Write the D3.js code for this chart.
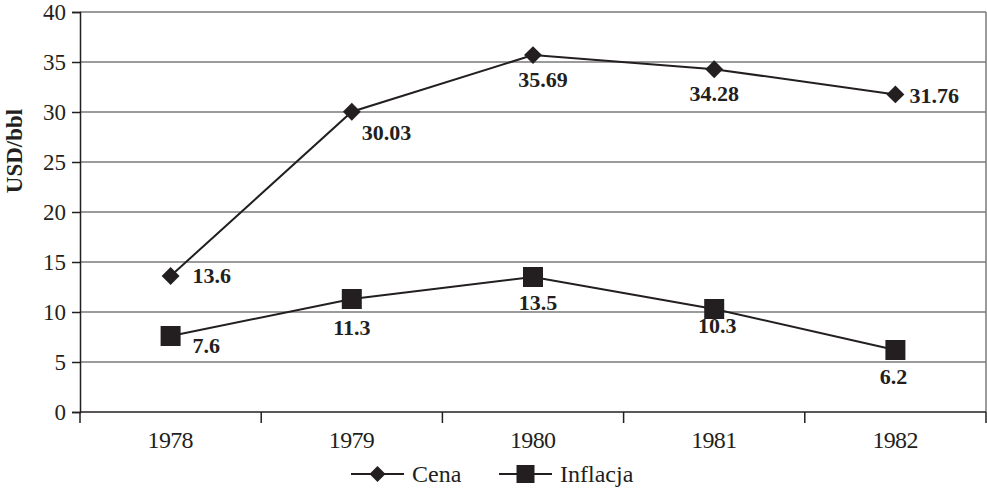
<!DOCTYPE html>
<html>
<head>
<meta charset="utf-8">
<script src="https://cdn.jsdelivr.net/npm/d3@7"></script>
<style>
  body { margin: 0; background: #fff; }
  svg text { font-family: "Liberation Serif", "Times New Roman", serif; fill: #231f20; }
</style>
</head>
<body>
<svg width="987" height="488"></svg>
<script>
var years = ["1978", "1979", "1980", "1981", "1982"];
var cena = [13.6, 30.03, 35.69, 34.28, 31.76];
var inflacja = [7.6, 11.3, 13.5, 10.3, 6.2];
var yTicks = [0, 5, 10, 15, 20, 25, 30, 35, 40];

var svg = d3.select("svg"),
    margin = {top: 12, right: 1, bottom: 76, left: 80},
    width = +svg.attr("width") - margin.left - margin.right,
    height = +svg.attr("height") - margin.top - margin.bottom,
    g = svg.append("g").attr("transform", "translate(" + margin.left + "," + margin.top + ")");

var x = d3.scaleBand().domain(years).range([0, width]);
var y = d3.scaleLinear().domain([0, 40]).range([height, 0]);
var ink = "#231f20";

// gridlines
g.selectAll("line.grid")
    .data(yTicks.filter(function(d) { return d > 0; }))
    .enter().append("line")
    .attr("class", "grid")
    .attr("x1", 0).attr("x2", width)
    .attr("y1", function(d) { return y(d); })
    .attr("y2", function(d) { return y(d); })
    .attr("stroke", "#7a7a7a").attr("stroke-width", 1.5);

// right border
g.append("line")
    .attr("x1", width).attr("x2", width)
    .attr("y1", 0).attr("y2", height)
    .attr("stroke", "#7a7a7a").attr("stroke-width", 1.5);

// y axis
var yAxis = g.append("g")
    .call(d3.axisLeft(y).tickValues(yTicks).tickSize(8).tickPadding(6));
yAxis.select(".domain").attr("stroke", ink).attr("stroke-width", 1.5);
yAxis.selectAll(".tick line").attr("stroke", ink).attr("stroke-width", 1.5);
yAxis.selectAll(".tick text").attr("font-size", "23px").attr("fill", ink);

// x axis: ticks at band boundaries
var xAxis = g.append("g").attr("transform", "translate(0," + height + ")");
xAxis.append("line")
    .attr("x1", 0).attr("x2", width)
    .attr("stroke", ink).attr("stroke-width", 1.5);
var bounds = years.map(function(d) { return x(d); }).concat([width]);
xAxis.selectAll("line.tk")
    .data(bounds)
    .enter().append("line")
    .attr("class", "tk")
    .attr("x1", function(d) { return d; }).attr("x2", function(d) { return d; })
    .attr("y1", 0).attr("y2", 11)
    .attr("stroke", ink).attr("stroke-width", 1.5);
xAxis.selectAll("text")
    .data(years)
    .enter().append("text")
    .attr("x", function(d) { return x(d) + x.bandwidth() / 2; })
    .attr("y", 36)
    .attr("text-anchor", "middle")
    .attr("font-size", "24px")
    .attr("textLength", 46)
    .text(function(d) { return d; });

// y title
svg.append("text")
    .attr("transform", "translate(22,151) rotate(-90)")
    .attr("text-anchor", "middle")
    .attr("font-size", "23px")
    .attr("font-weight", "bold")
    .text("USD/bbl");

var cx = function(i) { return x(years[i]) + x.bandwidth() / 2; };

var line = d3.line()
    .x(function(d, i) { return cx(i); })
    .y(function(d) { return y(d); });

function drawSeries(values, marker, place) {
    g.append("path")
        .datum(values)
        .attr("d", line)
        .attr("fill", "none")
        .attr("stroke", ink)
        .attr("stroke-width", 2);

    g.selectAll(null)
        .data(values)
        .enter().append("path")
        .attr("d", marker.path)
        .attr("transform", function(d, i) { return "translate(" + cx(i) + "," + y(d) + ")" + marker.rot; })
        .attr("fill", ink);

    g.selectAll(null)
        .data(values)
        .enter().append("text")
        .attr("x", function(d, i) { return cx(i) + place[i][0]; })
        .attr("y", function(d, i) { return y(d) + place[i][1]; })
        .attr("text-anchor", function(d, i) { return place[i][2]; })
        .attr("font-size", "22px")
        .attr("font-weight", "bold")
        .text(function(d) { return d; });
}

// label placement relative to marker: [dx, dy, anchor]
var cenaPlace = [[22, 7, "start"], [10, 28, "start"], [10, 32, "middle"], [0, 32, "middle"], [14, 9, "start"]];
var inflPlace = [[22, 17, "start"], [0, 36, "middle"], [5, 33, "middle"], [3, 24, "middle"], [-2, 34, "middle"]];

drawSeries(cena, {path: d3.symbol().type(d3.symbolSquare).size(160)(), rot: " rotate(45)"}, cenaPlace);
drawSeries(inflacja, {path: d3.symbol().type(d3.symbolSquare).size(400)(), rot: ""}, inflPlace);

// legend
var legend = svg.append("g").attr("transform", "translate(0,474)");
var items = [
    {name: "Cena", x0: 351, marker: d3.symbol().type(d3.symbolSquare).size(128)(), rot: " rotate(45)"},
    {name: "Inflacja", x0: 499, marker: d3.symbol().type(d3.symbolSquare).size(324)(), rot: ""}
];
items.forEach(function(it) {
    legend.append("line")
        .attr("x1", it.x0).attr("x2", it.x0 + 53)
        .attr("stroke", ink).attr("stroke-width", 2);
    legend.append("path")
        .attr("d", it.marker)
        .attr("transform", "translate(" + (it.x0 + 26.5) + ",0)" + it.rot)
        .attr("fill", ink);
    legend.append("text")
        .attr("x", it.x0 + 61)
        .attr("y", 8)
        .attr("font-size", "24px")
        .text(it.name);
});
</script>
</body>
</html>
